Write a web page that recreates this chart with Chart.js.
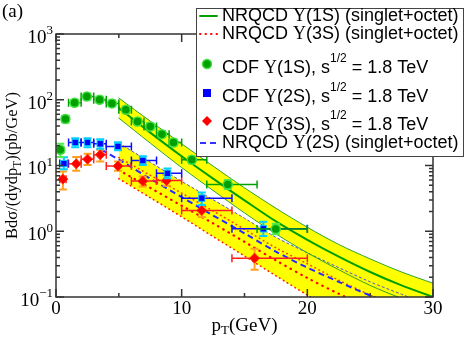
<!DOCTYPE html>
<html>
<head>
<meta charset="utf-8">
<script src="https://cdn.jsdelivr.net/npm/chart.js@4.4.1/dist/chart.umd.min.js"></script>
<style>
  html, body { margin: 0; padding: 0; background: #fff; }
  #wrap { width: 468px; height: 344px; }
</style>
</head>
<body>
<div id="wrap"><canvas id="chart" width="468" height="344"></canvas></div>
<script>
// NRQCD curves, read every 2.5 GeV starting at pT = 5
const bandX = [5, 7.5, 10, 12.5, 15, 17.5, 20, 22.5, 25, 27.5, 30];
const ups1Upper = [106, 47.3, 21.4, 9.8, 4.57, 2.24, 1.15, 0.63, 0.38, 0.24, 0.162];
const ups1Central = [75, 31.6, 13.8, 6.3, 2.95, 1.41, 0.74, 0.41, 0.24, 0.15, 0.10];
const ups1Lower = [52.5, 21.9, 9.3, 4.17, 1.9, 0.91, 0.47, 0.26, 0.15, 0.095, 0.063];
const ups2Upper = [21.9, 11.2, 5.75, 3.02, 1.58, 0.81, 0.47, 0.28, 0.17, 0.11, 0.072];
const ups2CentralX = [3.6, 5, 7.5, 10, 12.5, 15, 17.5, 20, 22.5, 25, 27.5];
const ups2Central = [17.5, 12.3, 6.3, 3.31, 1.74, 0.93, 0.49, 0.28, 0.17, 0.105, 0.068];
const ups3Upper = [13.2, 7.1, 3.8, 2.04, 1.07, 0.56, 0.32, 0.18, 0.107, 0.066, 0.042];
const ups3Central = [8.5, 4.57, 2.45, 1.32, 0.69, 0.36, 0.195, 0.112, 0.068, 0.042, 0.026];
const ups3Lower = [6.3, 3.24, 1.66, 0.83, 0.42, 0.21, 0.107, 0.056, 0.028, 0.014, 0.007];

// CDF data, sqrt(s) = 1.8 TeV
const cdf1X = [0.34, 0.75, 1.48, 2.46, 3.47, 4.45, 5.56, 6.49, 7.5, 8.43, 9.35, 10.81, 13.67, 17.49];
const cdf1Y = [17.3, 51, 90, 112, 100, 88, 70.4, 46.7, 39.2, 30, 22.4, 12.2, 5.14, 1.08];
const cdf1XLo = [0.1, 0.5, 1, 2, 3, 4, 5, 6, 7, 8, 9, 10, 12, 16];
const cdf1XHi = [0.6, 1, 2, 3, 4, 5, 6, 7, 8, 9, 10, 12, 16, 20];
const cdf1YLo = [13.5, 45, 80, 100, 90, 79, 63, 42, 35, 27, 20, 10.8, 4.4, 0.9];
const cdf1YHi = [21.5, 57, 100, 124, 111, 97, 78, 52, 44, 33.5, 25, 13.7, 6.0, 1.3];

const cdf2X = [0.63, 1.53, 2.51, 3.52, 4.93, 6.91, 8.87, 11.6, 16.5];
const cdf2Y = [10.7, 22.4, 22.4, 21.4, 19.5, 11.9, 7.6, 3.19, 1.09];
const cdf2XLo = [0.3, 1, 2, 3, 4, 6, 8, 10, 14];
const cdf2XHi = [0.95, 2, 3, 4, 6, 8, 10, 14, 20];
const cdf2YLo = [8.8, 19, 19, 18, 17, 10.2, 6.4, 2.5, 0.85];
const cdf2YHi = [13.4, 26, 26, 25, 22.5, 13.8, 9.0, 3.9, 1.4];

const cdf3X = [0.55, 1.61, 2.51, 3.52, 4.93, 6.9, 8.8, 11.6, 15.8];
const cdf3Y = [6.2, 10.6, 12.5, 14.6, 9.8, 5.8, 5.9, 2.07, 0.39];
const cdf3XLo = [0.3, 1, 2, 3, 4, 6, 8, 10, 14];
const cdf3XHi = [0.8, 2, 3, 4, 6, 8, 10, 14, 20];
const cdf3YLo = [4.3, 8.3, 10.2, 11.5, 8.3, 4.8, 4.9, 1.65, 0.26];
const cdf3YHi = [8.1, 13.5, 15.1, 17.4, 11.5, 6.8, 7.2, 2.5, 0.54];

// axes
const xMajor = [0, 10, 20, 30];
const xMinor = [5, 15, 25];
const yDecades = [-1, 0, 1, 2, 3];

const SERIF = "'Liberation Serif', 'DejaVu Serif', serif";
const SANS = "'Liberation Sans', Arial, sans-serif";
const YELLOW = '#ffff00';

function pts(xs, ys) {
    return xs.map((x, i) => ({ x: x, y: ys[i] }));
}

function curve(xs, ys, color, width, dash, extra) {
    return Object.assign({
        data: pts(xs, ys),
        showLine: true,
        borderColor: color,
        borderWidth: width,
        borderDash: dash,
        borderCapStyle: 'round',
        pointRadius: 0,
        tension: 0.3,
        fill: false
    }, extra || {});
}

// error bars go under each CDF marker set
const errorBars = {
    id: 'errorBars',
    beforeDatasetDraw(chart, args) {
        const ds = chart.data.datasets[args.index];
        if (!ds.err) return;
        const { ctx, chartArea: a } = chart;
        const xs = chart.scales.x, ys = chart.scales.y;
        ctx.save();
        ctx.beginPath();
        ctx.rect(a.left, a.top, a.right - a.left, a.bottom - a.top);
        ctx.clip();
        ds.data.forEach((p, i) => {
            const px = xs.getPixelForValue(p.x);
            const py = ys.getPixelForValue(p.y);
            const x0 = xs.getPixelForValue(ds.err.xLo[i]);
            const x1 = xs.getPixelForValue(ds.err.xHi[i]);
            ctx.strokeStyle = ds.err.hColor;
            ctx.lineWidth = 1.5;
            ctx.beginPath();
            ctx.moveTo(x0, py); ctx.lineTo(x1, py);
            ctx.moveTo(x0, py - 4); ctx.lineTo(x0, py + 4);
            ctx.moveTo(x1, py - 4); ctx.lineTo(x1, py + 4);
            ctx.stroke();
            const y0 = ys.getPixelForValue(ds.err.yLo[i]);
            const y1 = ys.getPixelForValue(ds.err.yHi[i]);
            ctx.strokeStyle = ds.err.vColor;
            ctx.lineWidth = 2;
            ctx.beginPath();
            ctx.moveTo(px, y0); ctx.lineTo(px, y1);
            ctx.moveTo(px - 4, y0); ctx.lineTo(px + 4, y0);
            ctx.moveTo(px - 4, y1); ctx.lineTo(px + 4, y1);
            ctx.stroke();
        });
        ctx.restore();
    }
};

function drawSup(ctx, base, sup, xRight, y, baseFont, supFont, rise) {
    ctx.font = supFont;
    const ws = ctx.measureText(sup).width;
    ctx.textAlign = 'left';
    ctx.fillText(sup, xRight - ws, y - rise);
    ctx.font = baseFont;
    const wb = ctx.measureText(base).width;
    ctx.fillText(base, xRight - ws - wb, y);
}

// draw a run of [text, font, dy] pieces left to right
function drawRun(ctx, pieces, x, y) {
    ctx.textAlign = 'left';
    pieces.forEach(p => {
        ctx.font = p[1];
        ctx.fillText(p[0], x, y + (p[2] || 0));
        x += ctx.measureText(p[0]).width;
    });
    return x;
}

const frame = {
    id: 'frame',
    afterDatasetsDraw(chart) {
        const { ctx, chartArea: a } = chart;
        const xs = chart.scales.x, ys = chart.scales.y;
        ctx.save();
        ctx.strokeStyle = '#333';
        ctx.lineWidth = 1.5;
        ctx.strokeRect(a.left, a.top, a.right - a.left, a.bottom - a.top);
        ctx.beginPath();
        xMajor.forEach(v => {
            const px = xs.getPixelForValue(v);
            ctx.moveTo(px, a.bottom); ctx.lineTo(px, a.bottom - 8);
            ctx.moveTo(px, a.top); ctx.lineTo(px, a.top + 8);
        });
        xMinor.forEach(v => {
            const px = xs.getPixelForValue(v);
            ctx.moveTo(px, a.bottom); ctx.lineTo(px, a.bottom - 4);
            ctx.moveTo(px, a.top); ctx.lineTo(px, a.top + 4);
        });
        yDecades.forEach(d => {
            const py = ys.getPixelForValue(Math.pow(10, d));
            ctx.moveTo(a.left, py); ctx.lineTo(a.left + 8, py);
            ctx.moveTo(a.right, py); ctx.lineTo(a.right - 8, py);
            if (d < 3) {
                for (let k = 2; k <= 9; k++) {
                    const pm = ys.getPixelForValue(k * Math.pow(10, d));
                    ctx.moveTo(a.left, pm); ctx.lineTo(a.left + 4, pm);
                    ctx.moveTo(a.right, pm); ctx.lineTo(a.right - 4, pm);
                }
            }
        });
        ctx.stroke();

        ctx.fillStyle = '#000';
        ctx.textBaseline = 'middle';
        ctx.textAlign = 'center';
        ctx.font = '19px ' + SERIF;
        xMajor.forEach(v => {
            ctx.fillText(String(v), xs.getPixelForValue(v), a.bottom + 12);
        });
        yDecades.forEach(d => {
            const py = ys.getPixelForValue(Math.pow(10, d));
            drawSup(ctx, '10', String(d).replace('-', '\u2212'), a.left - 3, py + 4,
                '19px ' + SERIF, '13px ' + SERIF, 7);
        });

        // x title
        const xt = [['p', '19px ' + SERIF, 0], ['T', '13px ' + SERIF, 5], ['(GeV)', '19px ' + SERIF, 0]];
        let w = 0;
        xt.forEach(p => { ctx.font = p[1]; w += ctx.measureText(p[0]).width; });
        drawRun(ctx, xt, (a.left + a.right) / 2 - w / 2, 326);

        // y title
        ctx.save();
        ctx.translate(13, (a.top + a.bottom) / 2);
        ctx.rotate(-Math.PI / 2);
        const yt = [['Bd\u03c3/(dydp', '16.5px ' + SERIF, 0], ['T', '11.5px ' + SERIF, 5], [')(pb/GeV)', '16.5px ' + SERIF, 0]];
        w = 0;
        yt.forEach(p => { ctx.font = p[1]; w += ctx.measureText(p[0]).width; });
        drawRun(ctx, yt, -w / 2, 0);
        ctx.restore();

        ctx.font = '19px ' + SERIF;
        ctx.textAlign = 'left';
        ctx.fillText('(a)', 2, 12);
        ctx.restore();
    }
};

const legendBox = {
    id: 'legendBox',
    afterDraw(chart) {
        const ctx = chart.ctx;
        ctx.save();
        ctx.fillStyle = '#fff';
        ctx.fillRect(196, 8, 268, 149);
        ctx.strokeStyle = '#444';
        ctx.lineWidth = 1;
        ctx.strokeRect(196.5, 8.5, 267, 148);
        const sans = '18px ' + SANS, ser = '18px ' + SERIF, sup = '12px ' + SANS;
        ctx.fillStyle = '#000';
        ctx.textBaseline = 'middle';
        const tx = 222;
        drawRun(ctx, [['NRQCD ', sans], ['\u03a5', ser], ['(1S) (singlet+octet)', sans]], tx, 16);
        drawRun(ctx, [['NRQCD ', sans], ['\u03a5', ser], ['(3S) (singlet+octet)', sans]], tx, 34);
        drawRun(ctx, [['CDF ', sans], ['\u03a5', ser], ['(1S), s', sans], ['1/2', sup, -9], [' = 1.8 TeV', sans]], tx, 68);
        drawRun(ctx, [['CDF ', sans], ['\u03a5', ser], ['(2S), s', sans], ['1/2', sup, -9], [' = 1.8 TeV', sans]], tx, 97);
        drawRun(ctx, [['CDF ', sans], ['\u03a5', ser], ['(3S), s', sans], ['1/2', sup, -9], [' = 1.8 TeV', sans]], tx, 125);
        drawRun(ctx, [['NRQCD ', sans], ['\u03a5', ser], ['(2S) (singlet+octet)', sans]], tx, 143);

        // line samples
        ctx.lineCap = 'round';
        ctx.strokeStyle = '#00a000'; ctx.lineWidth = 1.8; ctx.setLineDash([]);
        ctx.beginPath(); ctx.moveTo(200, 16); ctx.lineTo(217, 16); ctx.stroke();
        ctx.strokeStyle = '#ff0000'; ctx.lineWidth = 2; ctx.setLineDash([0.5, 5]);
        ctx.beginPath(); ctx.moveTo(200, 34); ctx.lineTo(217, 34); ctx.stroke();
        ctx.strokeStyle = '#3333ff'; ctx.lineWidth = 2; ctx.lineCap = 'butt'; ctx.setLineDash([6, 4]);
        ctx.beginPath(); ctx.moveTo(200, 143); ctx.lineTo(218, 143); ctx.stroke();
        ctx.setLineDash([]);
        // marker samples
        ctx.fillStyle = '#00a000'; ctx.strokeStyle = '#40e040'; ctx.lineWidth = 1.5;
        ctx.beginPath(); ctx.arc(207, 64, 4.5, 0, Math.PI * 2); ctx.fill(); ctx.stroke();
        ctx.fillStyle = '#0000ff';
        ctx.fillRect(203, 89, 8, 8);
        ctx.fillStyle = '#ff0000';
        ctx.beginPath(); ctx.moveTo(207, 116); ctx.lineTo(212, 121); ctx.lineTo(207, 126); ctx.lineTo(202, 121); ctx.closePath(); ctx.fill();
        ctx.restore();
    }
};

const datasets = [
    {
        label: 'CDF 1S', data: pts(cdf1X, cdf1Y), pointStyle: 'circle', pointRadius: 4.5,
        backgroundColor: '#00a000', borderColor: '#40e040', borderWidth: 1.5,
        err: { xLo: cdf1XLo, xHi: cdf1XHi, yLo: cdf1YLo, yHi: cdf1YHi, hColor: '#00a000', vColor: '#50ee50' }
    },
    {
        label: 'CDF 2S', data: pts(cdf2X, cdf2Y), pointStyle: 'rect', pointRadius: 4.5,
        backgroundColor: '#0000ff', borderColor: '#00c8ff', borderWidth: 1,
        err: { xLo: cdf2XLo, xHi: cdf2XHi, yLo: cdf2YLo, yHi: cdf2YHi, hColor: '#1010ff', vColor: '#00d0ff' }
    },
    {
        label: 'CDF 3S', data: pts(cdf3X, cdf3Y), pointStyle: 'rectRot', pointRadius: 5,
        backgroundColor: '#ff0000', borderColor: '#ff3000', borderWidth: 1,
        err: { xLo: cdf3XLo, xHi: cdf3XHi, yLo: cdf3YLo, yHi: cdf3YHi, hColor: '#ff2020', vColor: '#ffa020' }
    },
    curve(bandX, ups1Central, '#00a000', 2, []),
    curve(ups2CentralX, ups2Central, '#2a2aff', 2, [6, 4], { borderCapStyle: 'butt' }),
    curve(bandX, ups3Central, '#ff0000', 2.2, [0.5, 5.5]),
    curve(bandX, ups3Upper, '#ff4000', 1.6, [0.5, 4]),
    curve(bandX, ups1Upper, '#30a030', 1, [], { fill: 8, backgroundColor: YELLOW }),
    curve(bandX, ups1Lower, '#30a030', 1, []),
    curve(bandX, ups2Upper, '#5555cc', 1, [3, 2], { fill: 10, backgroundColor: YELLOW, borderCapStyle: 'butt' }),
    curve(bandX, ups3Lower, '#ff2000', 1.6, [0.5, 4])
];

new Chart(document.getElementById('chart'), {
    type: 'scatter',
    data: { datasets: datasets },
    options: {
        responsive: false,
        animation: false,
        devicePixelRatio: 1,
        layout: { padding: { left: 56, right: 35, top: 34, bottom: 47 } },
        plugins: {
            legend: { display: false },
            tooltip: { enabled: false },
            filler: { drawTime: 'beforeDatasetsDraw' }
        },
        scales: {
            x: { type: 'linear', min: 0, max: 30, display: false },
            y: { type: 'logarithmic', min: 0.1, max: 1000, display: false }
        }
    },
    plugins: [errorBars, frame, legendBox]
});
</script>
</body>
</html>
